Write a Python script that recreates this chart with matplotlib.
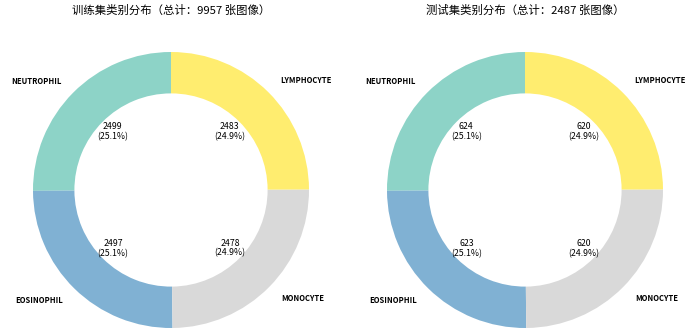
import matplotlib
matplotlib.use("Agg")
import matplotlib.pyplot as plt
import numpy as np

plt.rcParams['font.family'] = ['Noto Sans CJK SC', 'DejaVu Sans']

# data
classes = ["NEUTROPHIL", "EOSINOPHIL", "MONOCYTE", "LYMPHOCYTE"]
train_counts = [2499, 2497, 2478, 2483]
test_counts = [624, 623, 620, 620]
titles = ["训练集类别分布（总计：{} 张图像）", "测试集类别分布（总计：{} 张图像）"]

colors = plt.cm.Set3(np.linspace(0, 1, len(classes)))

W, H = 700, 335
fig = plt.figure(figsize=(W / 100, H / 100), dpi=100)

R = 138  # donut radius in px
centers = [(171, 190), (525, 190)]
side = 2.5 * R

for (cx, cy), counts, title in zip(centers, [train_counts, test_counts], titles):
    ax = fig.add_axes([(cx - side / 2) / W, (H - cy - side / 2) / H, side / W, side / H])
    total = sum(counts)

    def fmt(p, total=total):
        n = int(round(p * total / 100))
        return "{}\n({:.1f}%)".format(n, p)

    wedges, texts, autotexts = ax.pie(
        counts, labels=classes, colors=colors, startangle=90,
        autopct=fmt, pctdistance=0.6, labeldistance=1.12,
        wedgeprops=dict(width=0.3, edgecolor="none"),
        textprops=dict(fontsize=6),
    )
    for t in texts:
        t.set_fontweight("bold")
        t.set_fontsize(5.5)
    for t in autotexts:
        t.set_fontsize(6.3)
        t.set_linespacing(1.15)
    ax.set_xlim(-1.25, 1.25)
    ax.set_ylim(-1.25, 1.25)
    ax.set_aspect("equal")
    fig.text(cx / W, 1 - 10 / H, title.format(total), ha="center", va="center", fontsize=8.2)

fig.savefig("out.png", dpi=100)
